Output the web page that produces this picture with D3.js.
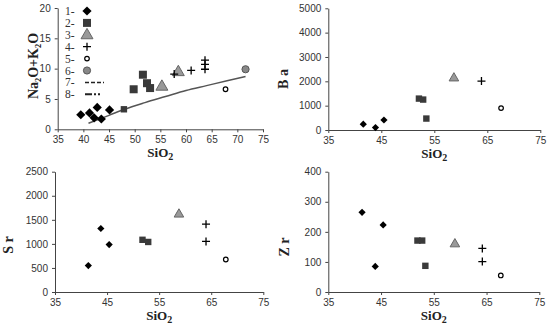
<!DOCTYPE html>
<meta charset="utf-8">
<style>
  body { margin: 0; background: #fff; }
  svg { display: block; }
  .tick text { font-family: "Liberation Sans", Arial, sans-serif; font-size: 10px; fill: #333; }
  .domain, .tick line { stroke: #444; }
  .title { font-family: "Liberation Serif", "Times New Roman", serif; font-weight: bold; fill: #222; }
  .leg { font-family: "Liberation Serif", "Times New Roman", serif; font-size: 11.5px; fill: #333; }
</style>
<body></body>
<script src="https://d3js.org/d3.v7.min.js"></script>
<script>

  // ---- data ----
  // Na2O+K2O vs SiO2
  var alk_1 = [[39.5,2.4],[41.2,2.7],[42.1,1.9],[42.7,3.6],[43.5,1.7],[45.1,3.2]];
  var alk_2 = [[47.9,3.3],[49.8,6.6],[51.6,9.0],[52.4,7.6],[53.0,6.8]];
  var alk_3 = [[55.3,7.1],[58.5,9.5]];
  var alk_4 = [[57.7,9.1],[61.0,9.7],[63.7,9.9],[63.7,10.7],[63.7,11.4]];
  var alk_5 = [[67.7,6.6]];
  var alk_6 = [[71.6,9.9]];
  var alk_curve = [[41,1.0],[45,2.3],[48,3.3],[52,4.4],[56,5.4],[60,6.4],[64,7.2],[68,8.0],[71.6,8.7]];

  // Ba vs SiO2
  var ba_1 = [[41.6,240],[43.9,100],[45.5,410]];
  var ba_2 = [[52.1,1290],[52.9,1250],[53.5,470]];
  var ba_3 = [[58.7,2150]];
  var ba_4 = [[63.9,2010]];
  var ba_5 = [[67.6,900]];

  // Sr vs SiO2
  var sr_1 = [[41.4,550],[43.8,1320],[45.4,985]];
  var sr_2 = [[51.8,1085],[52.9,1040]];
  var sr_3 = [[58.8,1625]];
  var sr_4 = [[64.0,1410],[64.0,1050]];
  var sr_5 = [[67.8,675]];

  // Zr vs SiO2
  var zr_1 = [[41.4,265],[43.9,85],[45.4,223]];
  var zr_2 = [[51.9,171],[52.8,171],[53.4,87]];
  var zr_3 = [[59.0,161]];
  var zr_4 = [[64.2,145],[64.2,101]];
  var zr_5 = [[67.7,55]];

  var legendLabels = ["1-","2-","3-","4-","5-","6-","7-","8-"];

  // ---- layout ----
  var svg = d3.select("body").append("svg")
    .attr("width", 552).attr("height", 330);

  var panels = [
    { x0: 57.7, x1: 263, yb: 129.3, yt: 8, xTicks: d3.range(35, 76, 5), yDom: [0,20], yTicks: [0,5,10,15,20],
      series: [alk_1, alk_2, alk_3, alk_4, alk_5, alk_6], ytitle: "Na₂O+K₂O", ytx: 37.5, yty: 66, big: true },
    { x0: 328.3, x1: 540.3, yb: 130, yt: 8.3, xTicks: [35,45,55,65,75], yDom: [0,5000], yTicks: d3.range(0,5001,1000),
      series: [ba_1, ba_2, ba_3, ba_4, ba_5], ytitle: "B a", ytx: 288, yty: 79 },
    { x0: 55, x1: 263.3, yb: 292, yt: 171.7, xTicks: [35,45,55,65,75], yDom: [0,2500], yTicks: d3.range(0,2501,500),
      series: [sr_1, sr_2, sr_3, sr_4, sr_5], ytitle: "S r", ytx: 13, yty: 245 },
    { x0: 328.3, x1: 539.3, yb: 292, yt: 171.7, xTicks: [35,45,55,65,75], yDom: [0,400], yTicks: d3.range(0,401,100),
      series: [zr_1, zr_2, zr_3, zr_4, zr_5], ytitle: "Z r", ytx: 289, yty: 247 }
  ];

  function drawMarker(g, type, x, y, big) {
    var s = big ? 1 : 0.8;
    if (type == 0) {
      var h = big ? 4.6 : 3.6;
      g.append("path")
        .attr("d", "M" + x + "," + (y - h) + "L" + (x + h) + "," + y + "L" + x + "," + (y + h) + "L" + (x - h) + "," + y + "Z")
        .style("fill", "#000");
    } else if (type == 1) {
      g.append("rect").attr("x", x - 4 * s).attr("y", y - 4 * s).attr("width", 8 * s).attr("height", 8 * s)
        .style("fill", "#3a3a3a");
    } else if (type == 2) {
      g.append("path").attr("d", d3.symbol().type(d3.symbolTriangle).size(62 * s * s)())
        .attr("transform", "translate(" + x + "," + (y + 0.5) + ")")
        .style("fill", "#999").style("stroke", "#666").style("stroke-width", 1);
    } else if (type == 3) {
      g.append("path").attr("d", "M" + (x - 4) + "," + y + "H" + (x + 4) + "M" + x + "," + (y - 4) + "V" + (y + 4))
        .style("stroke", "#000").style("stroke-width", 1.3).style("fill", "none");
    } else if (type == 4) {
      g.append("circle").attr("cx", x).attr("cy", y).attr("r", 2.3)
        .style("fill", "#fff").style("stroke", "#000").style("stroke-width", 1.2);
    } else if (type == 5) {
      g.append("circle").attr("cx", x).attr("cy", y).attr("r", 3.6)
        .style("fill", "#888").style("stroke", "#555").style("stroke-width", 1);
    }
  }

  panels.forEach(function(p, i) {
    var xScale = d3.scaleLinear().domain([35, 75]).range([p.x0, p.x1]);
    var yScale = d3.scaleLinear().domain(p.yDom).range([p.yb, p.yt]);
    var g = svg.append("g");

    g.append("g")
      .attr("transform", "translate(0," + p.yb + ")")
      .call(d3.axisBottom(xScale).tickValues(p.xTicks).tickFormat(d3.format("d"))
        .tickSize(3).tickSizeOuter(0).tickPadding(4));

    g.append("g")
      .attr("transform", "translate(" + p.x0 + ",0)")
      .call(d3.axisLeft(yScale).tickValues(p.yTicks).tickFormat(d3.format("d"))
        .tickSize(3).tickSizeOuter(0).tickPadding(4));

    // x title
    var xt = g.append("text").attr("class", "title")
      .attr("x", (p.x0 + p.x1) / 2).attr("y", p.yb + 28)
      .attr("text-anchor", "middle").style("font-size", "13px");
    xt.append("tspan").text("SiO");
    xt.append("tspan").attr("dy", 3).style("font-size", "10px").text("2");

    // y title
    g.append("text").attr("class", "title")
      .attr("transform", "translate(" + p.ytx + "," + p.yty + ") rotate(-90)")
      .attr("text-anchor", "middle").style("font-size", "14px")
      .text(p.ytitle);

    if (i == 0) {
      g.append("path")
        .datum(alk_curve)
        .attr("d", d3.line().curve(d3.curveMonotoneX)
          .x(function(d) { return xScale(d[0]); })
          .y(function(d) { return yScale(d[1]); }))
        .style("fill", "none").style("stroke", "#555").style("stroke-width", 1.5);
    }

    p.series.forEach(function(arr, k) {
      arr.forEach(function(d) {
        var small = (i == 0 && k == 1 && d[0] < 49);
        drawMarker(g, k, xScale(d[0]), yScale(d[1]), p.big && !small);
      });
    });
  });

  // legend in first panel
  var leg = svg.append("g");
  legendLabels.forEach(function(l, k) {
    var y = 11 + k * 11.9;
    leg.append("text").attr("class", "leg").attr("x", 65).attr("y", y + 4).text(l);
    if (k < 6) {
      drawMarker(leg, k, 87, y, true);
    } else if (k == 6) {
      leg.append("line").attr("x1", 85).attr("x2", 104).attr("y1", y).attr("y2", y)
        .style("stroke", "#222").style("stroke-width", 1.5).style("stroke-dasharray", "4,2");
    } else {
      leg.append("line").attr("x1", 85).attr("x2", 102).attr("y1", y).attr("y2", y)
        .style("stroke", "#222").style("stroke-width", 2).style("stroke-dasharray", "7,2,2,2,2,2");
    }
  });

</script>
